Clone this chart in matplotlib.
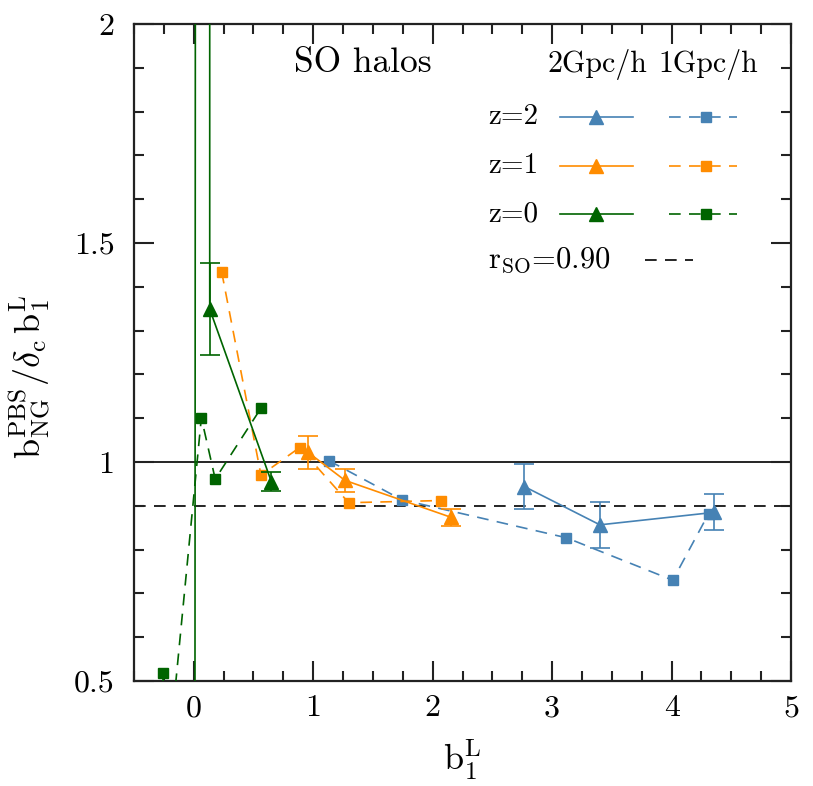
import matplotlib
matplotlib.use("Agg")
import matplotlib.pyplot as plt
from matplotlib.ticker import MultipleLocator
from matplotlib.lines import Line2D

plt.rcParams['font.family'] = ['cmr10', 'DejaVu Serif']
plt.rcParams['mathtext.fontset'] = 'cm'
plt.rcParams['axes.unicode_minus'] = False
plt.rcParams['axes.formatter.use_mathtext'] = True

# ---- data ----
# z=2 (blue)
z2_2g_x = [2.767, 3.40, 4.357]
z2_2g_y = [0.944, 0.8565, 0.885]
z2_2g_err = [0.051, 0.052, 0.041]
z2_1g_x = [1.132, 1.74, 3.12, 4.01, 4.31]
z2_1g_y = [1.003, 0.914, 0.827, 0.730, 0.882]

# z=1 (orange)
z1_2g_x = [0.957, 1.266, 2.156]
z1_2g_y = [1.022, 0.958, 0.8735]
z1_2g_err = [0.038, 0.026, 0.020]
z1_1g_x = [0.234, 0.563, 0.887, 1.297, 2.07]
z1_1g_y = [1.434, 0.970, 1.033, 0.907, 0.912]

# z=0 (green) -- first two points lie far outside the plotted range
z0_2g_x = [0.01, 0.13, 0.134, 0.65]
z0_2g_y = [0.20, 60.0, 1.349, 0.955]
z0_2g_err = [0.0, 0.0, 0.105, 0.021]
z0_1g_x = [-0.26, -0.22, 0.064, 0.18, 0.563]
z0_1g_y = [0.519, 0.30, 1.101, 0.961, 1.123]

r_so = 0.90

xticks = [0, 1, 2, 3, 4, 5]
xtick_labels = ['0', '1', '2', '3', '4', '5']
yticks = [0.5, 1.0, 1.5, 2.0]
ytick_labels = ['0.5', '1', '1.5', '2']

c_blue = '#4682B4'
c_orange = '#FF8C00'
c_green = '#006400'

fig = plt.figure(figsize=(8.13, 7.86), dpi=100)
ax = fig.add_axes([0.1648, 0.1336, 0.8082, 0.8359])

lw = 1.2
dash = (7, 5)
ms_sq = 7.8
ms_tri = 9.5

# reference lines
ax.axhline(1.0, color='black', lw=1.2, zorder=1)
ax.axhline(r_so, color='black', lw=1.2, ls=(0, (7, 5)), zorder=1)

series = [
    (z2_2g_x, z2_2g_y, z2_2g_err, z2_1g_x, z2_1g_y, c_blue),
    (z1_2g_x, z1_2g_y, z1_2g_err, z1_1g_x, z1_1g_y, c_orange),
    (z0_2g_x, z0_2g_y, z0_2g_err, z0_1g_x, z0_1g_y, c_green),
]
for x2, y2, e2, x1, y1, c in series:
    ax.errorbar(x2, y2, yerr=e2, color=c, lw=lw, marker='^', ms=ms_tri,
                capsize=7, capthick=lw, elinewidth=lw, zorder=3)
    ax.plot(x1, y1, color=c, lw=lw, ls=(0, dash), marker='s', ms=ms_sq,
            zorder=3)

ax.set_xlim(-0.5, 5)
ax.set_ylim(0.5, 2)
ax.set_xticks(xticks)
ax.set_xticklabels(xtick_labels)
ax.set_yticks(yticks)
ax.set_yticklabels(ytick_labels)
ax.xaxis.set_minor_locator(MultipleLocator(0.25))
ax.yaxis.set_minor_locator(MultipleLocator(0.1))
ax.tick_params(which='both', direction='in', top=True, right=True,
               width=1.5, color='#222222')
ax.tick_params(which='major', length=14.5)
ax.tick_params(which='minor', length=7.5)
ax.tick_params(axis='x', which='major', labelsize=23, pad=10)
ax.tick_params(axis='y', which='major', labelsize=23, pad=14)
for s in ax.spines.values():
    s.set_linewidth(1.6)
    s.set_color('#222222')

ax.set_xlabel(r'$\mathrm{b}^{\mathrm{L}}_{1}$', fontsize=26)
ax.xaxis.set_label_coords(0.5, -0.086)
ax.xaxis.label.set_va('top')
ax.set_ylabel(r'$\mathrm{b}^{\mathrm{PBS}}_{\mathrm{NG}}/\delta_{\mathrm{c}}\,\mathrm{b}^{\mathrm{L}}_{1}$',
              fontsize=26)
ax.yaxis.set_label_coords(-0.123, 0.463)

# annotations / legend (manual, in axes coordinates)
T = ax.transAxes
ax.text(0.349, 0.941, 'SO halos', transform=T, fontsize=25.5, ha='center', va='center')
ax.text(0.706, 0.938, '2Gpc/h', transform=T, fontsize=21.5, ha='center', va='center')
ax.text(0.874, 0.938, '1Gpc/h', transform=T, fontsize=21.5, ha='center', va='center')

rows = [('z=2', c_blue, 0.858), ('z=1', c_orange, 0.784), ('z=0', c_green, 0.711)]
for lab, c, yy in rows:
    ax.text(0.539, yy, lab, transform=T, fontsize=21, ha='left', va='center')
    ax.add_line(Line2D([0.648, 0.760], [yy, yy], transform=T, color=c, lw=lw))
    ax.add_line(Line2D([0.703], [yy], transform=T, color=c, marker='^', ms=ms_tri, ls='none'))
    ax.add_line(Line2D([0.814, 0.918], [yy, yy], transform=T, color=c, lw=lw, ls=(0, dash)))
    ax.add_line(Line2D([0.871], [yy], transform=T, color=c, marker='s', ms=ms_sq, ls='none'))

ax.text(0.539, 0.641, r'$\mathrm{r_{SO}}$' + '=0.90', transform=T, fontsize=22,
        ha='left', va='center')
ax.add_line(Line2D([0.778, 0.851], [0.641, 0.641], transform=T, color='black',
                   lw=1.2, ls=(0, (7, 5))))

fig.savefig('out.png', dpi=100)
